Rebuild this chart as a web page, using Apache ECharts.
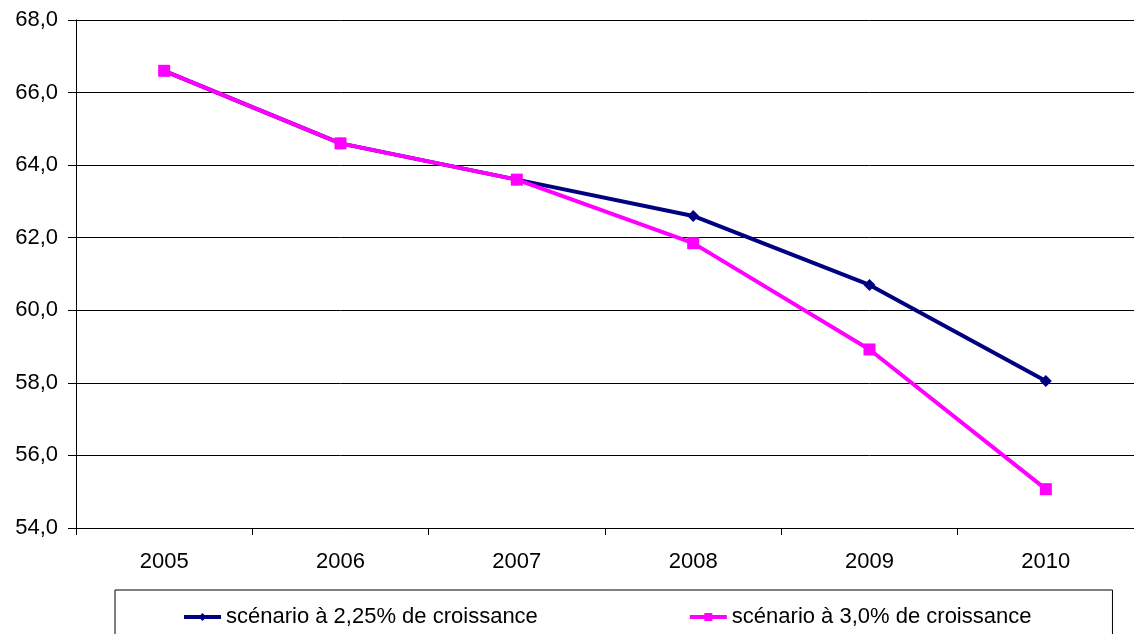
<!DOCTYPE html>
<html>
<head>
<meta charset="utf-8">
<script src="https://cdn.jsdelivr.net/npm/echarts@6/dist/echarts.min.js"></script>
<style>
  html, body { margin: 0; padding: 0; background: #fff; }
  #chart { width: 1134px; height: 634px; }
</style>
</head>
<body>
<div id="chart"></div>
<script>
  // values
  let years = ['2005', '2006', '2007', '2008', '2009', '2010'];
  let scenario225 = [66.6, 64.6, 63.6, 62.6, 60.7, 58.05];
  let scenario30 = [66.6, 64.6, 63.6, 61.85, 58.92, 55.07];
  let seriesNames = ['scénario à 2,25% de croissance', 'scénario à 3,0% de croissance'];

  let chart = echarts.init(document.getElementById('chart'));

  let font = 'Liberation Sans, Arial, sans-serif';

  chart.setOption({
    animation: false,
    grid: { left: 76, right: -3, top: 20, bottom: 106 },
    legend: {
      data: seriesNames,
      left: 115,
      top: 590,
      orient: 'horizontal',
      padding: [16, 81, 60, 67],
      itemGap: 150,
      itemWidth: 37,
      itemHeight: 10,
      borderColor: '#000',
      borderWidth: 1,
      lineStyle: { width: 4 },
      textStyle: { fontFamily: font, fontSize: 22, color: '#000' }
    },
    xAxis: {
      type: 'category',
      data: years,
      boundaryGap: true,
      axisLine: { lineStyle: { color: '#000', width: 1 } },
      axisTick: { show: true, length: 7, lineStyle: { color: '#000' } },
      axisLabel: { fontFamily: font, fontSize: 22, color: '#000', margin: 23 }
    },
    yAxis: {
      type: 'value',
      min: 54,
      max: 68,
      interval: 2,
      axisLine: { show: true, lineStyle: { color: '#000', width: 1 } },
      axisTick: { show: true, length: 8, lineStyle: { color: '#000' } },
      splitLine: { show: true, lineStyle: { color: '#000', width: 1 } },
      axisLabel: {
        fontFamily: font, fontSize: 22, color: '#000', margin: 18,
        formatter: (v) => v.toFixed(1).replace('.', ',')
      }
    },
    series: [
      {
        name: seriesNames[0],
        type: 'line',
        data: scenario225,
        symbol: 'diamond',
        symbolSize: 12,
        lineStyle: { color: '#000080', width: 4 },
        itemStyle: { color: '#000080' },
        z: 2
      },
      {
        name: seriesNames[1],
        type: 'line',
        data: scenario30,
        symbol: 'rect',
        symbolSize: 12,
        lineStyle: { color: '#FF00FF', width: 4 },
        itemStyle: { color: '#FF00FF' },
        z: 3
      }
    ]
  });
</script>
</body>
</html>
